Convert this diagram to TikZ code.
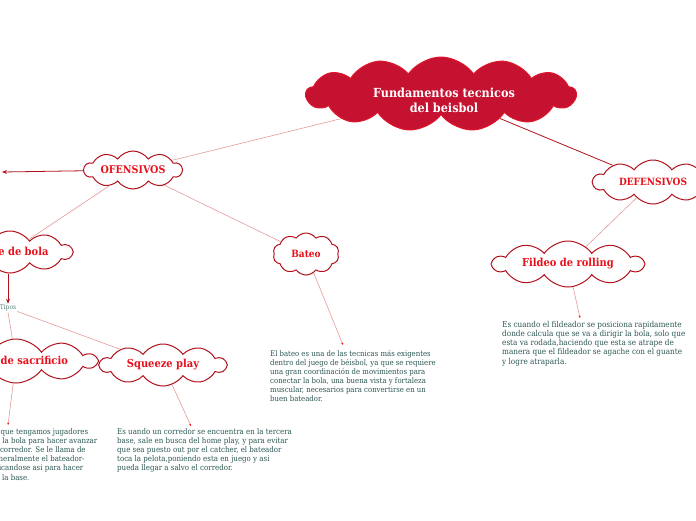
\documentclass[tikz,border=0pt]{standalone}
\usepackage{fontspec}
\setmainfont{DejaVu Serif Condensed}[BoldFont={DejaVu Serif Condensed Bold}]
\usetikzlibrary{shapes.symbols,arrows.meta}
\definecolor{crim}{HTML}{C41230}
\definecolor{crimedge}{HTML}{E0162C}
\definecolor{cborder}{HTML}{B0121B}
\definecolor{ctext}{HTML}{E8101A}
\definecolor{btext}{HTML}{2A5652}
\definecolor{ttext}{HTML}{4F7F7C}
\definecolor{lpink}{HTML}{E39A9A}
\definecolor{dred}{HTML}{B0121B}
\tikzset{
  cl/.style={cloud, cloud puffs=10, cloud puff arc=110, cloud ignores aspect,
    draw=cborder, line width=1pt, fill=white, text=ctext,
    font=\bfseries\fontsize{10}{11}\selectfont, inner sep=0pt, align=center},
  big/.style={font=\bfseries\fontsize{11}{12}\selectfont},
  desc/.style={anchor=north west, align=left, text=btext,
    font=\fontsize{7.5}{9}\selectfont, inner sep=0pt},
  lnk/.style={draw=lpink, line width=0.6pt},
  dlnk/.style={draw=dred, line width=0.8pt},
  arr/.style={dlnk, -{Stealth[length=5pt,width=4pt]}},
  tipl/.style={lnk, -{Stealth[length=2.5pt,width=2pt,color=red]}}
}
\begin{document}
\begin{tikzpicture}[x=1pt,y=-1pt]
\useasboundingbox (0,0) rectangle (696,520);
\clip (0,0) rectangle (696,520);

\node[cl, fill=crim, draw=crimedge, cloud puffs=13, cloud puff arc=110,
  minimum width=270, minimum height=74] (main) at (441,94) {};
\node[text=white, font=\bfseries\fontsize{12.5}{15}\selectfont, align=center, inner sep=0pt]
  (mainl) at (444,100) {Fundamentos tecnicos\\del beisbol};
\node[cl, font=\bfseries\fontsize{10.6}{11}\selectfont, minimum width=98, minimum height=38] (ofe) at (133,170) {OFENSIVOS};
\node[cl, minimum width=120, minimum height=44] (def) at (653,182) {DEFENSIVOS};
\node[cl, big, minimum width=124, minimum height=42] (toq) at (10,252) {Toque de bola};
\node[cl, minimum width=66, minimum height=42] (bat) at (306,254) {Bateo};
\node[cl, big, minimum width=150, minimum height=46] (fil) at (568,264) {Fildeo de rolling};
\node[cl, big, minimum width=160, minimum height=44] (sac) at (16,361) {Toque de sacrificio};
\node[cl, big, minimum width=126, minimum height=42] (squ) at (163,365) {Squeeze play};
\node[text=ttext, font=\fontsize{6.6}{8}\selectfont, inner sep=1pt] (tip) at (8,308) {Tipos};

\node[desc, font=\fontsize{7.7}{9}\selectfont] (batd) at (270,350) {El bateo es una de las tecnicas más exigentes\\
dentro del juego de béisbol, ya que se requiere\\
una gran coordinación de movimientos para\\
conectar la bola, una buena vista y fortaleza\\
muscular, necesarios para convertirse en un\\
buen bateador.};
\node[desc, font=\fontsize{8.1}{9.2}\selectfont] (fild) at (502,321) {Es cuando el fildeador se posiciona rapidamente\\
donde calcula que se va a dirigir la bola, solo que\\
esta va rodada,haciendo que esta se atrape de\\
manera que el fildeador se agache con el guante\\
y logre atraparla.};
\node[desc, font=\fontsize{7.85}{9.2}\selectfont] (squd) at (117,428) {Es uando un corredor se encuentra en la tercera\\
base, sale en busca del home play, y para evitar\\
que sea puesto out por el catcher, el bateador\\
toca la pelota,poniendo esta en juego y asi\\
pueda llegar a salvo el corredor.};
\node[desc, font=\fontsize{7.8}{9.2}\selectfont] (sacd) at (-47,428) {Es necesario que tengamos jugadores\\
en base, toca la bola para hacer avanzar\\
de la base al corredor. Se le llama de\\
sacrificio, generalmente el bateador-\\
es out, sacrificandose asi para hacer\\
que avance a la base.};

\coordinate (ofl) at (2,172);
\coordinate (sacp) at (8,425);
\coordinate (squp) at (191,426);
\coordinate (batp) at (343,345);
\coordinate (filp) at (580,318);

\draw[lnk] (main) -- (ofe);
\draw[dlnk] (main) -- (def);
\draw[arr] (ofe) -- (ofl);
\draw[lnk] (ofe) -- (toq);
\draw[lnk] (ofe) -- (bat);
\draw[arr] (toq.south -| tip.north) -- (tip.north);
\draw[lnk] (tip.south) -- (sac);
\draw[lnk] (tip) -- (squ);
\draw[lnk] (def) -- (fil);
\draw[tipl] (sac) -- (sacp);
\draw[tipl] (squ) -- (squp);
\draw[tipl] (bat) -- (batp);
\draw[tipl] (fil) -- (filp);
\end{tikzpicture}
\end{document}
